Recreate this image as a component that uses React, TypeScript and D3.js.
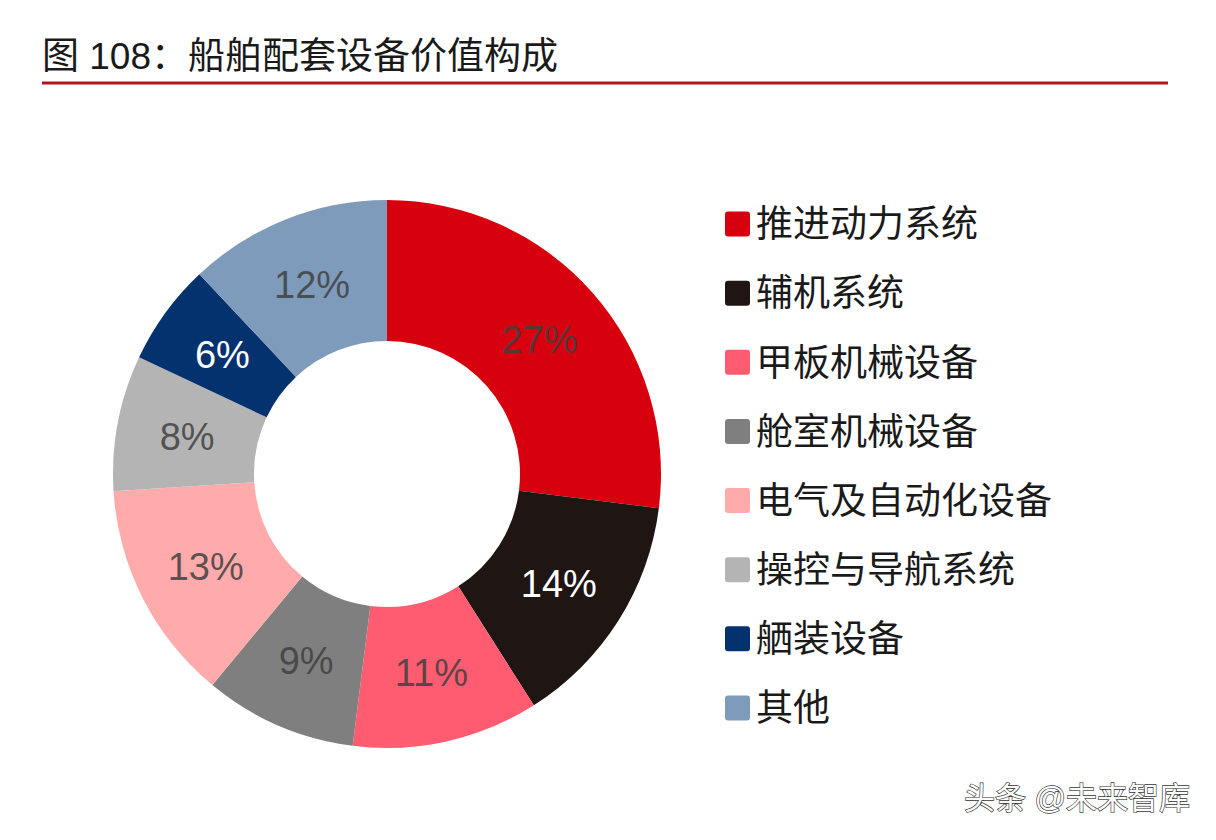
import React from 'react';
import * as d3 from 'd3';

// 船舶配套设备价值构成 (%)
const categories = ['推进动力系统', '辅机系统', '甲板机械设备', '舱室机械设备', '电气及自动化设备', '操控与导航系统', '舾装设备', '其他'];
const shares = [27, 14, 11, 9, 13, 8, 6, 12];
const sliceColors = ['#d7000f', '#1f1513', '#ff5c72', '#7f7f7f', '#ffabab', '#b4b4b5', '#03326f', '#7f9bbb'];
const labelColors = ['#404040', '#ffffff', '#404040', '#404040', '#404040', '#404040', '#ffffff', '#404040'];

const title = '图 108：船舶配套设备价值构成';
const watermark = '头条 @未来智库';

const W = 1216;
const H = 840;
const cx = 387;
const cy = 474;
const outerR = 274;
const innerR = 133;

const App = () => {
    const data = categories.map((name, i) => ({ name, value: shares[i], i }));
    const pie = d3.pie<any>().value(d => d.value).sort(null);
    const arcs = pie(data);
    const arc = d3.arc<any>().innerRadius(innerR).outerRadius(outerR);

    const legendY = d3.scalePoint<string>()
        .domain(categories)
        .range([224, 708]);

    const cjk = '"Liberation Sans", "Noto Sans CJK SC", sans-serif';

    return (
        <svg width={W} height={H} style={{ position: 'absolute', left: 0, top: 0, background: '#fff' }}>
            <rect width={W} height={H} fill="#ffffff" />
            <text x={42} y={69} fontSize={37} fontFamily={cjk} fill="#1a1a1a">{title}</text>
            <line x1={42} x2={1168} y1={83} y2={83} stroke="#b5121b" strokeWidth={3} />

            <g transform={`translate(${cx},${cy})`}>
                {arcs.map(a => (
                    <path key={a.data.name} d={arc(a) || ''} fill={sliceColors[a.data.i]} />
                ))}
                {arcs.map(a => {
                    const [x, y] = arc.centroid(a);
                    const dark = labelColors[a.data.i] !== '#ffffff';
                    return (
                        <text key={'l' + a.data.name} x={x} y={y} dy="0.36em" textAnchor="middle"
                            fontSize={38} fontFamily='"Liberation Sans", Arial, sans-serif'
                            fill={labelColors[a.data.i]} fillOpacity={dark ? 0.85 : 1}>
                            {a.data.value}%
                        </text>
                    );
                })}
            </g>

            <g>
                {categories.map((c, i) => (
                    <g key={c} transform={`translate(725,${legendY(c)})`}>
                        <rect x={0} y={-12.5} width={25} height={25} rx={3} fill={sliceColors[i]} />
                        <text x={31} y={0} dy="0.36em" fontSize={37} fontFamily={cjk} fill="#1a1a1a">{c}</text>
                    </g>
                ))}
            </g>

            <text x={1190} y={809} textAnchor="end" fontSize={31} fontFamily={cjk}
                fill="#ffffff" stroke="#333" strokeWidth={1.3} paintOrder="stroke">{watermark}</text>
        </svg>
    );
};

export default App;
